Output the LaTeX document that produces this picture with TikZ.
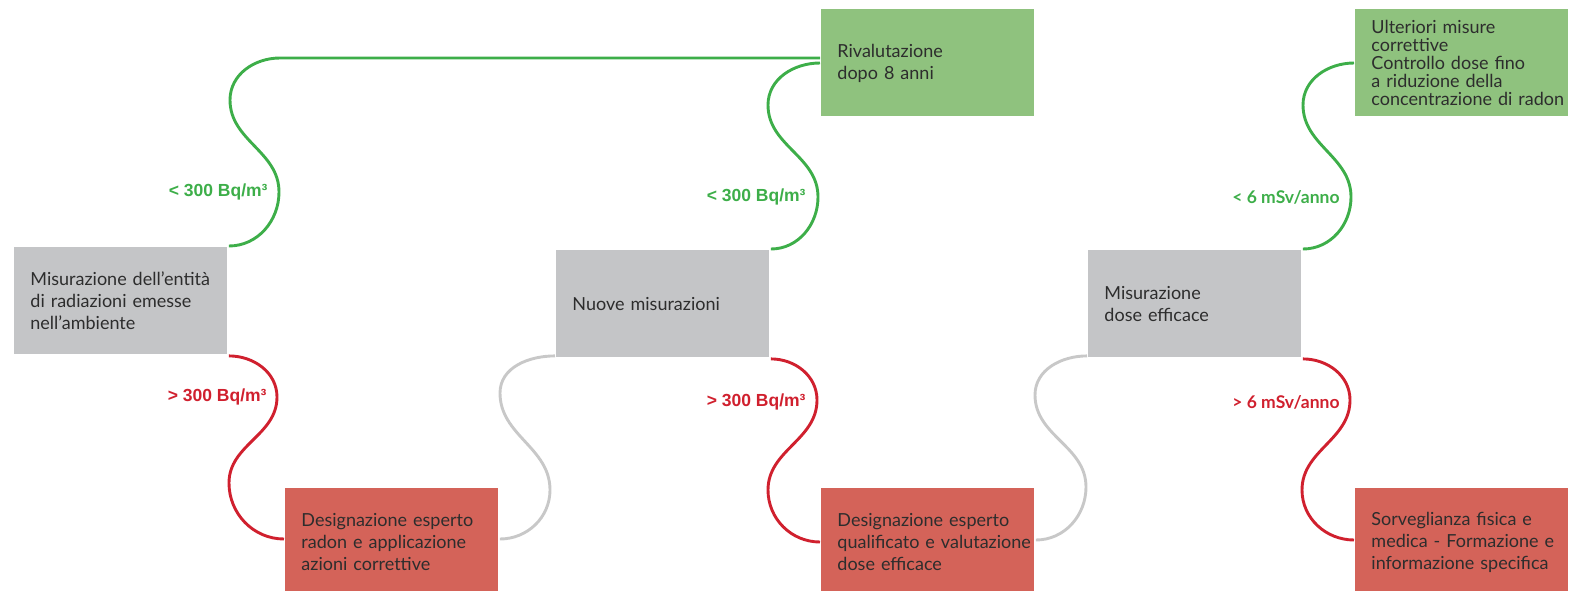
\documentclass[tikz,border=0pt]{standalone}
\usepackage{fontspec}
\setmainfont{Lato}
\newfontfamily\unitfont{Liberation Sans}
\usepackage{tikz}
\definecolor{box_gray}{RGB}{196,197,199}
\definecolor{box_green}{RGB}{143,194,126}
\definecolor{box_red}{RGB}{212,99,89}
\definecolor{edge_green}{RGB}{61,174,73}
\definecolor{edge_red}{RGB}{208,32,46}
\definecolor{edge_gray}{RGB}{200,200,200}
\definecolor{text_dark}{RGB}{45,45,45}

\begin{document}
\begin{tikzpicture}[x=1pt,y=1pt,line width=2.9pt]
    \tikzstyle{box}=[rectangle, anchor=north west, minimum height=107pt, inner xsep=16pt, inner ysep=0pt, text width=181pt, align=left, text=text_dark, font=\fontsize{18}{22}\selectfont]
    \tikzstyle{gr}=[style=box, fill=box_gray]
    \tikzstyle{gn}=[style=box, fill=box_green]
    \tikzstyle{rd}=[style=box, fill=box_red]
    \tikzstyle{cond}=[anchor=east, inner sep=0pt, font=\bfseries\fontsize{17.5}{20}\selectfont]
    \tikzstyle{bq}=[style=cond, font=\unitfont\bfseries\fontsize{17.5}{20}\selectfont]
    \useasboundingbox (0,0) rectangle (1570,-590);
    \node[gr] (m1) at (13,-246)   {\mbox{Misurazione dell’entità}\\di radiazioni emesse\\nell’ambiente};
    \node[gr] (m2) at (555,-249)  {Nuove misurazioni};
    \node[gr] (m3) at (1087,-249) {Misurazione\\dose efficace};
    \node[gn] (r1) at (820,-8)    {Rivalutazione\\dopo 8 anni};
    \node[gn,font=\fontsize{18}{18}\selectfont] (r2) at (1354,-8) {Ulteriori misure\\corret\null tive\\\mbox{Controllo dose fino}\\a riduzione della\\\mbox{concentrazione di radon}};
    \node[rd] (d1) at (284,-487)  {\mbox{Designazione esperto}\\\mbox{radon e applicazione}\\azioni corret\null tive};
    \node[rd] (d2) at (820,-487)  {\mbox{Designazione esperto}\\\mbox{qualificato e valutazione}\\dose efficace};
    \node[rd] (d3) at (1354,-487) {\mbox{Sorveglianza fisica e}\\\mbox{medica - Formazione e}\\\mbox{informazione specifica}};

    % green branches
    \draw[edge_green] (m1.north east) to[out=0,in=-90] (279,-192) to[out=90,in=-90] (230,-100)
        to[out=90,in=180] (280,-58) -- ([yshift=-50pt]r1.north west);
    \draw[edge_green] (m2.north east) to[out=0,in=-90] (818,-197) to[out=90,in=-90] (768,-105)
        to[out=90,in=180] ([yshift=-55pt]r1.north west);
    \draw[edge_green] (m3.north east) to[out=0,in=-90] (1351,-197) to[out=90,in=-90] (1303,-105)
        to[out=90,in=180] ([yshift=-55pt]r2.north west);
    % red branches
    \draw[edge_red] (m1.south east) to[out=0,in=90] (277,-397) to[out=-90,in=90] (229,-483)
        to[out=-90,in=180] ([yshift=-52pt]d1.north west);
    \draw[edge_red] (m2.south east) to[out=0,in=90] (817,-400) to[out=-90,in=90] (768,-490)
        to[out=-90,in=180] ([yshift=-55pt]d2.north west);
    \draw[edge_red] (m3.south east) to[out=0,in=90] (1350,-400) to[out=-90,in=90] (1302,-490)
        to[out=-90,in=180] ([yshift=-53pt]d3.north west);
    % back to new measurements
    \draw[edge_gray] ([yshift=-52pt]d1.north east) to[out=0,in=-90] (550,-490) to[out=90,in=-90] (500,-393)
        to[out=90,in=180] ([yshift=3pt]m2.south west);
    \draw[edge_gray] ([yshift=-53pt]d2.north east) to[out=0,in=-90] (1086,-487) to[out=90,in=-90] (1035,-395)
        to[out=90,in=180] ([yshift=3pt]m3.south west);

    \node[bq,text=edge_green]   (c1) at (269,-192)  {< 300 Bq/m³};
    \node[bq,text=edge_green]   (c2) at (807,-197)  {< 300 Bq/m³};
    \node[cond,text=edge_green] (c3) at (1341,-197) {< 6 mSv/anno};
    \node[bq,text=edge_red]     (c4) at (268,-397)  {> 300 Bq/m³};
    \node[bq,text=edge_red]     (c5) at (807,-402)  {> 300 Bq/m³};
    \node[cond,text=edge_red]   (c6) at (1341,-402) {> 6 mSv/anno};
\end{tikzpicture}
\end{document}
